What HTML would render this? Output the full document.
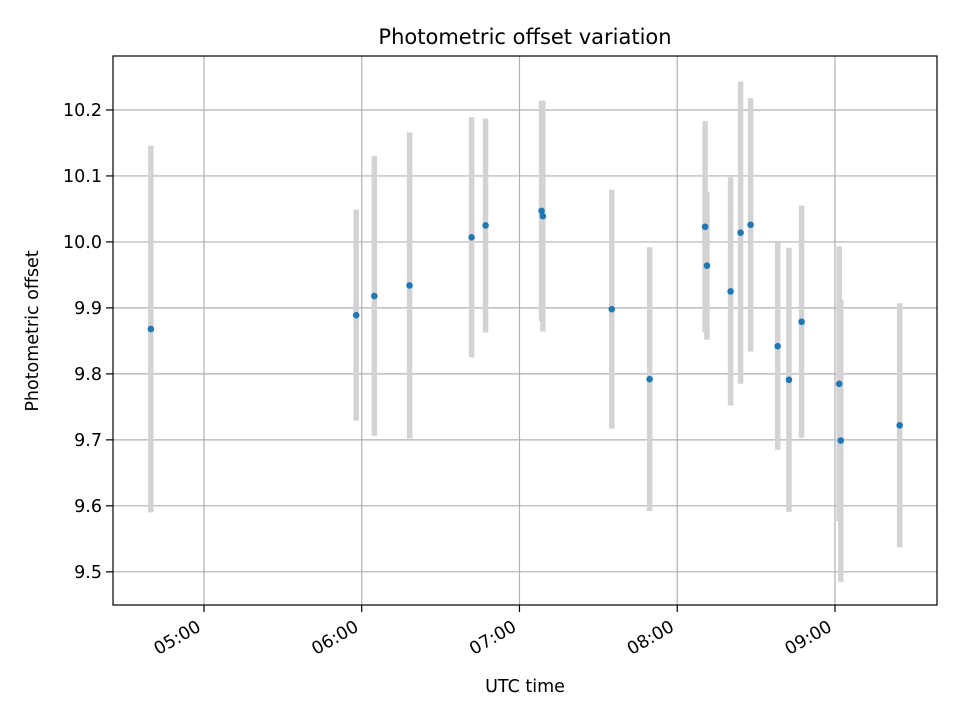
<!DOCTYPE html>
<html><head><meta charset="utf-8"><style>
body{margin:0;background:#fff;}
svg text{font-family:"DejaVu Sans","Liberation Sans",sans-serif;fill:#000;}
</style></head><body>
<svg id="chart" width="960" height="720" xmlns="http://www.w3.org/2000/svg">
<rect width="960" height="720" fill="#fff"/>
<g id="grid"></g><g id="bars"></g><g id="points"></g><g id="axes"></g>
<text x="525" y="44" font-size="21" text-anchor="middle">Photometric offset variation</text>
<text x="525" y="692" font-size="17.5" text-anchor="middle">UTC time</text>
<text transform="translate(38,331) rotate(-90)" font-size="17.5" text-anchor="middle">Photometric offset</text>
</svg>
<script>
// times in minutes of day (UTC)
const times=[279.8,357.9,364.8,378.2,401.8,407.1,428.4,428.9,455.1,469.5,490.6,491.3,500.3,504.1,507.9,518.2,522.5,527.3,541.6,542.2,564.6];
const offsets=[9.868,9.889,9.918,9.934,10.007,10.025,10.047,10.039,9.898,9.792,10.023,9.964,9.925,10.014,10.026,9.842,9.791,9.879,9.785,9.699,9.722];
const errors=[0.278,0.160,0.212,0.232,0.182,0.162,0.167,0.175,0.181,0.200,0.160,0.112,0.173,0.229,0.192,0.157,0.200,0.176,0.208,0.214,0.185];
const yTicks=[9.5,9.6,9.7,9.8,9.9,10.0,10.1,10.2];
const yTickLabels=["9.5","9.6","9.7","9.8","9.9","10.0","10.1","10.2"];
const xTicks=[300,360,420,480,540];
const xTickLabels=["05:00","06:00","07:00","08:00","09:00"];

const L=113,R=937,T=56,B=605;
const xMin=265.4,xMax=578.8,yMin=9.4497,yMax=10.2818;
const xs=t=>L+(t-xMin)/(xMax-xMin)*(R-L);
const ys=v=>B-(v-yMin)/(yMax-yMin)*(B-T);
const NS="http://www.w3.org/2000/svg";
function mk(tag,attrs,parent){const e=document.createElementNS(NS,tag);for(const k in attrs)e.setAttribute(k,attrs[k]);parent.appendChild(e);return e;}
const grid=document.getElementById('grid'),bars=document.getElementById('bars'),pts=document.getElementById('points'),axes=document.getElementById('axes');

yTicks.forEach((v,i)=>{
  const y=ys(v);
  const g=mk('line',{x1:L,x2:R,y1:y,y2:y,stroke:'#b0b0b0','stroke-width':1.2},grid);
  
  
  mk('line',{x1:L-7,x2:L,y1:y,y2:y,stroke:'#000','stroke-width':1.2},axes);
  const t=mk('text',{x:L-11,y:y+6,'font-size':17.5,'text-anchor':'end'},axes);
  t.textContent=yTickLabels[i];
  
  
});
xTicks.forEach((m,i)=>{
  const x=xs(m);
  const g=mk('line',{x1:x,x2:x,y1:T,y2:B,stroke:'#b0b0b0','stroke-width':1.2},grid);
  
  
  mk('line',{x1:x,x2:x,y1:B,y2:B+7,stroke:'#000','stroke-width':1.2},axes);
  const t=mk('text',{x:0,y:0,'font-size':17.5,'text-anchor':'end',transform:`translate(${x-2},${B+25}) rotate(-30)`},axes);
  t.textContent=xTickLabels[i];
  
  
});
times.forEach((m,i)=>{
  const x=xs(m);
  const b=mk('line',{x1:x,x2:x,y1:ys(offsets[i]+errors[i]),y2:ys(offsets[i]-errors[i]),stroke:'#d3d3d3','stroke-width':5.5},bars);
  
  
  const c=mk('circle',{cx:x,cy:ys(offsets[i]),r:3.3,fill:'#1f77b4'},pts);
  
  
});
const f=mk('rect',{x:L,y:T,width:R-L,height:B-T,fill:'none',stroke:'#000','stroke-width':1.2},axes);


</script>
</body></html>
